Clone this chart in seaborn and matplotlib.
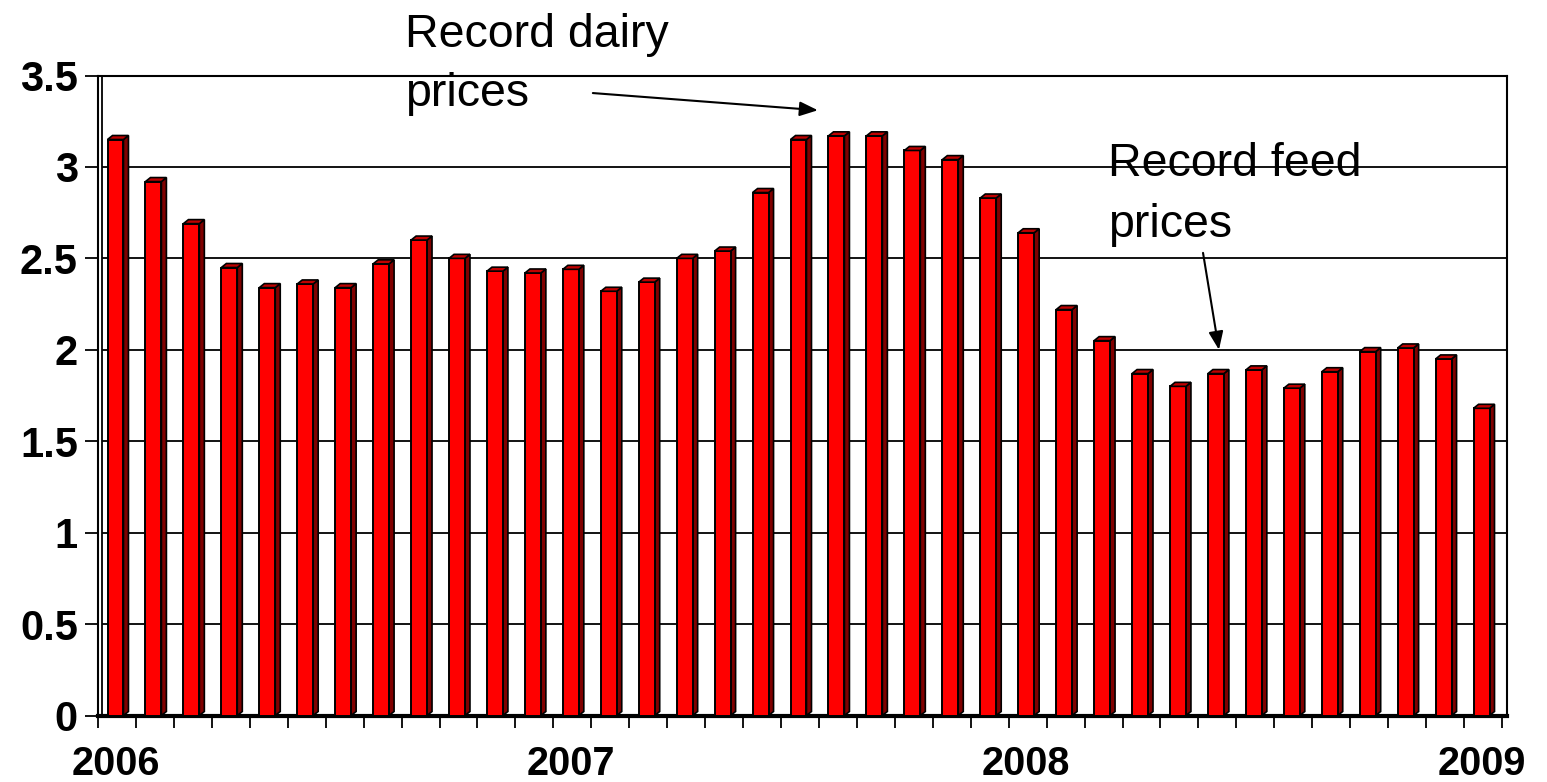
import numpy as np
import pandas as pd
import matplotlib
matplotlib.use("Agg")
import matplotlib.pyplot as plt
from matplotlib.patches import Polygon
import seaborn as sns

# ---- data ----
months = list(pd.date_range("2006-01-01", periods=37, freq="MS").strftime("%Y-%m"))
values = [3.15, 2.92, 2.69, 2.45, 2.34, 2.36, 2.34, 2.47, 2.60, 2.50, 2.43, 2.42,
          2.44, 2.32, 2.37, 2.50, 2.54, 2.86, 3.15, 3.17, 3.17, 3.09, 3.04, 2.83,
          2.64, 2.22, 2.05, 1.87, 1.80, 1.87, 1.89, 1.79, 1.88, 1.99, 2.01, 1.95,
          1.68]
year_labels = ["2006", "2007", "2008", "2009"]
year_positions = [0, 12, 24, 36]
y_ticks = [0, 0.5, 1, 1.5, 2, 2.5, 3, 3.5]
y_tick_labels = ["0", "0.5", "1", "1.5", "2", "2.5", "3", "3.5"]
notes = ["Record dairy\nprices", "Record feed\nprices"]

df = pd.DataFrame({"month": months, "value": values})

sns.set_theme(style="white")
plt.rcParams["font.family"] = ["Liberation Sans", "DejaVu Sans"]

W, H = 1547, 782
fig = plt.figure(figsize=(W / 100, H / 100), dpi=100)
ax = fig.add_axes([98 / W, 1 - 715.5 / H, (1507 - 98) / W, (715.5 - 75.5) / H])

slot_px = 37.95
off = 0.461  # slot start relative to bar center
dx = 5 / slot_px
dy = 4 / 182.9

sns.barplot(data=df, x="month", y="value", color="#FF0000", saturation=1,
            edgecolor="black", linewidth=1.4, width=0.42, ax=ax, zorder=3)

# 3D side and top faces derived from the bar patches
for p in list(ax.patches):
    x0 = p.get_x()
    w = p.get_width()
    h = p.get_height()
    x1 = x0 + w
    side = Polygon([(x1, 0), (x1 + dx, dy), (x1 + dx, h + dy), (x1, h)],
                   closed=True, facecolor="#800000", edgecolor="black",
                   linewidth=1.2, zorder=2.9)
    top = Polygon([(x0, h), (x0 + dx, h + dy), (x1 + dx, h + dy), (x1, h)],
                  closed=True, facecolor="#C00000", edgecolor="black",
                  linewidth=1.2, zorder=3.1)
    ax.add_patch(side)
    ax.add_patch(top)

n = len(values)
ax.set_xlim(-off, n - off + dx)
ax.set_ylim(0, 3.5)

# gridlines on back wall
back_x = -off + 4.5 / slot_px
xr = ax.get_xlim()[1]
ax.hlines(y_ticks[1:], back_x, xr, colors="black", linewidth=1.3, zorder=1)
ax.vlines(back_x, 0, 3.5, colors="black", linewidth=1.3, zorder=1)

# spines
for s in ["left", "top", "right"]:
    ax.spines[s].set_visible(True)
    ax.spines[s].set_color("black")
    ax.spines[s].set_linewidth(1.5)
ax.spines["bottom"].set_color("black")
ax.spines["bottom"].set_linewidth(3)

# y axis
ax.set_yticks(y_ticks)
ax.set_yticklabels(y_tick_labels, fontsize=30, fontweight="bold")
ax.tick_params(axis="y", direction="out", length=9.5, width=1.3, pad=5,
               colors="black", left=True)

# x axis: year labels (major, no marks) and slot boundary marks (minor)
ax.set_xticks(year_positions)
ax.set_xticklabels(year_labels, fontsize=28.5, fontweight="bold")
ax.set_xticks([k - off for k in range(n + 1)], minor=True)
ax.tick_params(axis="x", which="major", length=0, pad=21, colors="black")
ax.tick_params(axis="x", which="minor", direction="out", length=8.5, width=1.3,
               bottom=True, colors="black")
ax.set_xlabel("")
ax.set_ylabel("")
ax.grid(False)

# annotations
fig.text(405 / W, 1 - 13 / H, notes[0], fontsize=33.5, va="top", ha="left",
         linespacing=1.45, color="black")
fig.text(1108 / W, 1 - 142 / H, notes[1], fontsize=33.5, va="top", ha="left",
         linespacing=1.5, color="black")

arrow_style = dict(arrowstyle="-|>,head_length=0.55,head_width=0.22",
                   mutation_scale=20, color="black", lw=1.5,
                   shrinkA=0, shrinkB=0)
ax.annotate("", xy=(18.51, 3.31), xytext=(12.58, 3.404), xycoords="data",
            textcoords="data", arrowprops=arrow_style, annotation_clip=False)
ax.annotate("", xy=(29.08, 2.0), xytext=(28.66, 2.53), xycoords="data",
            textcoords="data", arrowprops=arrow_style, annotation_clip=False)

fig.savefig("out.png", dpi=100, facecolor="white")
